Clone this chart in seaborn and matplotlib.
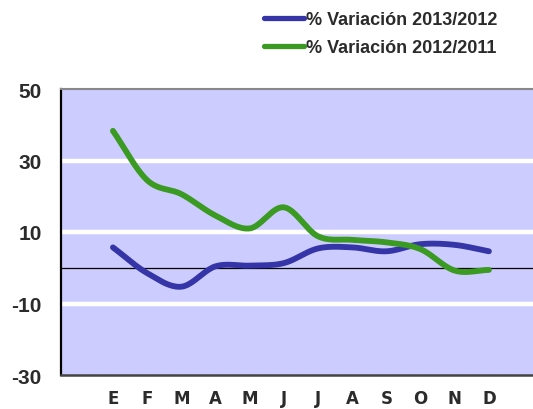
import numpy as np
import pandas as pd
import matplotlib
matplotlib.use("Agg")
import matplotlib.pyplot as plt
import seaborn as sns
from matplotlib import font_manager
from matplotlib.lines import Line2D

months = ["E", "F", "M", "A", "M", "J", "J", "A", "S", "O", "N", "D"]
var_2013_2012 = [5.7, -1.5, -5.3, 0.4, 0.6, 1.3, 5.4, 5.7, 4.6, 6.6, 6.4, 4.6]
var_2012_2011 = [38.3, 24.5, 20.6, 14.6, 11.0, 16.9, 8.8, 7.8, 7.1, 5.2, -0.8, -0.6]
series_names = ["% Variación 2013/2012", "% Variación 2012/2011"]
series_colors = ["#3535A8", "#3A9A22"]
yticks = [-30, -10, 10, 30, 50]

sns.set_theme(style="white")
names = {f.name for f in font_manager.fontManager.ttflist}
narrow = "Liberation Sans Narrow" if "Liberation Sans Narrow" in names else "Liberation Sans"
plt.rcParams["font.family"] = ["Liberation Sans", "DejaVu Sans"]


def smooth(x, y, n=20):
    """Catmull-Rom style smoothing for drawing, like Excel's smoothed line."""
    x = np.asarray(x, float)
    y = np.asarray(y, float)
    px = np.concatenate([[2 * x[0] - x[1]], x, [2 * x[-1] - x[-2]]])
    py = np.concatenate([[2 * y[0] - y[1]], y, [2 * y[-1] - y[-2]]])
    xs, ys = [], []
    for i in range(1, len(px) - 2):
        t = np.linspace(0, 1, n, endpoint=False)
        for arr, out in ((px, xs), (py, ys)):
            p0, p1, p2, p3 = arr[i - 1], arr[i], arr[i + 1], arr[i + 2]
            out.extend(0.5 * ((2 * p1) + (-p0 + p2) * t
                              + (2 * p0 - 5 * p1 + 4 * p2 - p3) * t ** 2
                              + (-p0 + 3 * p1 - 3 * p2 + p3) * t ** 3))
    xs.append(x[-1]); ys.append(y[-1])
    return np.array(xs), np.array(ys)


fig = plt.figure(figsize=(5.33, 4.10), dpi=100)
ax = fig.add_axes([61 / 533, 1 - 376 / 410, 1 - 61 / 533, (376 - 90) / 410])
ax.set_facecolor("#CCCCFF")

idx = np.arange(len(months))
frames = []
for name, vals in zip(series_names, [var_2013_2012, var_2012_2011]):
    sx, sy = smooth(idx, vals)
    frames.append(pd.DataFrame({"x": sx, "y": sy, "serie": name}))
df = pd.concat(frames, ignore_index=True)

for yv in [-10, 10, 30]:
    ax.axhline(yv, color="white", lw=3.2, zorder=1)
ax.axhline(0, color="black", lw=0.9, zorder=2)

sns.lineplot(data=df, x="x", y="y", hue="serie", palette=series_colors,
             hue_order=series_names, sort=False, estimator=None, lw=4.2,
             ax=ax, legend=False, zorder=3, solid_capstyle="round")

ax.set_xlim(-1.52, 12.29)
ax.set_ylim(-30, 50)
ax.set_yticks(yticks)
ax.set_yticklabels([str(v) for v in yticks], fontsize=15, fontweight="bold",
                   color="#2b2b2b")
ax.set_xticks(idx)
ax.set_xticklabels(months, fontsize=12, fontweight="heavy", color="#2b2b2b",
                   family=["DejaVu Sans"])
ax.tick_params(axis="y", length=0, pad=14)
ax.tick_params(axis="x", length=0, pad=10)
ax.set_xlabel("")
ax.set_ylabel("")

ax.spines["right"].set_visible(False)
ax.spines["left"].set_color("black")
ax.spines["left"].set_linewidth(1.6)
ax.spines["top"].set_color("#888888")
ax.spines["top"].set_linewidth(1.5)
ax.spines["bottom"].set_color("#444444")
ax.spines["bottom"].set_linewidth(1.8)

handles = [Line2D([0], [0], color=c, lw=3.8, solid_capstyle="round") for c in series_colors]
leg = fig.legend(handles, series_names, loc="upper left",
                 bbox_to_anchor=(248 / 533, 1 + 4 / 410), frameon=False,
                 handlelength=2.2, handletextpad=0.1, labelspacing=0.62,
                 prop={"family": [narrow, "DejaVu Sans"], "weight": "bold", "size": 13})
for t in leg.get_texts():
    t.set_color("#2b2b2b")

fig.savefig("out.png", dpi=100)
